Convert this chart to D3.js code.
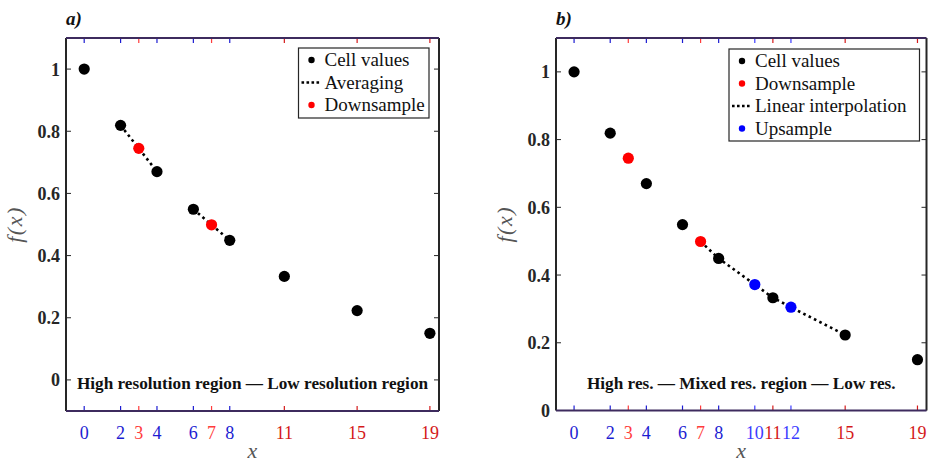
<!DOCTYPE html>
<html>
<head>
<meta charset="utf-8">
<script src="https://cdn.jsdelivr.net/npm/d3@7"></script>
<style>
  body { margin: 0; background: #fff; }
  svg { display: block; font-family: "Liberation Serif", "DejaVu Serif", serif; }
</style>
</head>
<body>
<svg id="chart" width="928" height="463"></svg>
<script>
// data
const cellX = [0, 2, 4, 6, 8, 11, 15, 19];
const cellY = [1.0, 0.819, 0.670, 0.549, 0.449, 0.333, 0.223, 0.150];
const downX = [3, 7];
const downY = [0.745, 0.499];
const upX = [10, 12];
const upY = [0.372, 0.305];
// averaging segments (panel a)
const avgX1 = [2, 3, 4], avgY1 = [0.819, 0.745, 0.670];
const avgX2 = [6, 7, 8], avgY2 = [0.549, 0.499, 0.449];
// linear interpolation (panel b)
const interpX = [7, 8, 10, 11, 12, 15];
const interpY = [0.499, 0.449, 0.372, 0.333, 0.305, 0.223];

// x ticks and their kind (drives colour)
const ticksA = [0, 2, 3, 4, 6, 7, 8, 11, 15, 19];
const kindsA = ["high", "high", "down", "high", "high", "down", "high", "low", "low", "low"];
const ticksB = [0, 2, 3, 4, 6, 7, 8, 10, 11, 12, 15, 19];
const kindsB = ["high", "high", "down", "high", "high", "down", "high", "up", "low", "up", "low", "low"];
const yTicks = [0, 0.2, 0.4, 0.6, 0.8, 1];

const kindColor = {high: "#1c1cd2", down: "#ff3c3c", low: "#d41a1a", up: "#3c3cff"};

const svg = d3.select("#chart");
const zip = (xs, ys) => xs.map((x, i) => ({x, y: ys[i]}));

function panel(opt) {
  const x = d3.scaleLinear().domain([-1, 19.5]).range([opt.left, opt.right]);
  const y = d3.scaleLinear().domain(opt.yDomain).range([opt.bottom, opt.top]);
  const g = svg.append("g");

  // dotted lines
  const line = d3.line().x(d => x(d.x)).y(d => y(d.y));
  opt.lines.forEach(l => {
    g.append("path")
      .attr("d", line(l))
      .attr("fill", "none")
      .attr("stroke", "#000")
      .attr("stroke-width", 2.6)
      .attr("stroke-dasharray", "2.6,3.4");
  });

  // points
  opt.points.forEach(p => {
    g.append("g").selectAll("circle")
      .data(p.data)
      .join("circle")
        .attr("cx", d => x(d.x))
        .attr("cy", d => y(d.y))
        .attr("r", 5.6)
        .attr("fill", p.color);
  });

  // y ticks (inward, both sides)
  const yt = g.append("g");
  yTicks.forEach(t => {
    yt.append("line").attr("x1", opt.left).attr("x2", opt.left + 5)
      .attr("y1", y(t)).attr("y2", y(t)).attr("stroke", "#262626");
    yt.append("line").attr("x1", opt.right).attr("x2", opt.right - 5)
      .attr("y1", y(t)).attr("y2", y(t)).attr("stroke", "#262626");
    yt.append("text")
      .attr("x", opt.left - 6)
      .attr("y", y(t))
      .attr("dy", "0.36em")
      .attr("text-anchor", "end")
      .attr("font-weight", "bold")
      .attr("font-size", 18)
      .attr("fill", "#262626")
      .text(d3.format("~g")(t));
  });

  // x ticks (inward, top and bottom) coloured
  const xt = g.append("g");
  opt.ticks.forEach((t, i) => {
    const c = kindColor[opt.kinds[i]];
    xt.append("line").attr("x1", x(t)).attr("x2", x(t))
      .attr("y1", opt.bottom).attr("y2", opt.bottom - 5).attr("stroke", c).attr("stroke-width", 1.2);
    xt.append("line").attr("x1", x(t)).attr("x2", x(t))
      .attr("y1", opt.top).attr("y2", opt.top + 5).attr("stroke", c).attr("stroke-width", 1.2);
    xt.append("text")
      .attr("x", x(t))
      .attr("y", opt.bottom + 28)
      .attr("text-anchor", "middle")
      .attr("font-size", 18)
      .attr("fill", c)
      .text(t);
  });

  // frame
  g.append("line").attr("x1", opt.left).attr("x2", opt.left)
    .attr("y1", opt.top).attr("y2", opt.bottom).attr("stroke", "#262626").attr("stroke-width", 2);
  g.append("line").attr("x1", opt.right).attr("x2", opt.right)
    .attr("y1", opt.top).attr("y2", opt.bottom).attr("stroke", "#262626").attr("stroke-width", 2);
  g.append("line").attr("x1", opt.left).attr("x2", opt.right)
    .attr("y1", opt.top).attr("y2", opt.top).attr("stroke", "#3d2b5e").attr("stroke-width", 2);
  g.append("line").attr("x1", opt.left).attr("x2", opt.right)
    .attr("y1", opt.bottom).attr("y2", opt.bottom).attr("stroke", "#3d2b5e").attr("stroke-width", 2);

  // panel title
  g.append("text")
    .attr("x", opt.left)
    .attr("y", 25)
    .attr("font-size", 19)
    .attr("font-weight", "bold")
    .attr("font-style", "italic")
    .attr("fill", "#111")
    .text(opt.title);

  // axis labels
  const cx = (opt.left + opt.right) / 2;
  g.append("text")
    .attr("x", cx)
    .attr("y", opt.bottom + 47)
    .attr("text-anchor", "middle")
    .attr("font-size", 22)
    .attr("font-style", "italic")
    .attr("fill", "#555")
    .text("x");
  g.append("text")
    .attr("transform", `translate(${opt.left - 44},${(opt.top + opt.bottom) / 2}) rotate(-90)`)
    .attr("text-anchor", "middle")
    .attr("font-size", 22)
    .attr("font-style", "italic")
    .attr("letter-spacing", 1.5)
    .attr("fill", "#555")
    .text("f(x)");

  // region annotation
  g.append("text")
    .attr("x", cx)
    .attr("y", 383)
    .attr("dy", "0.35em")
    .attr("text-anchor", "middle")
    .attr("font-size", 17.2)
    .attr("font-weight", "bold")
    .attr("fill", "#111")
    .text(opt.note);

  // legend
  const lg = g.append("g");
  lg.append("rect")
    .attr("x", opt.legend.x).attr("y", opt.legend.y)
    .attr("width", opt.legend.w).attr("height", opt.legend.h)
    .attr("fill", "#fff").attr("stroke", "#262626").attr("stroke-width", 1.2);
  opt.legend.items.forEach((it, i) => {
    const yy = opt.legend.y + 12 + i * 22.5;
    if (it.type === "dot") {
      lg.append("circle").attr("cx", opt.legend.x + 13).attr("cy", yy).attr("r", 3.2).attr("fill", it.color);
    } else {
      lg.append("line")
        .attr("x1", opt.legend.x + 3).attr("x2", opt.legend.x + 23)
        .attr("y1", yy).attr("y2", yy)
        .attr("stroke", "#000").attr("stroke-width", 2.6).attr("stroke-dasharray", "2.6,2.4");
    }
    lg.append("text")
      .attr("x", opt.legend.x + 26)
      .attr("y", yy)
      .attr("dy", "0.33em")
      .attr("font-size", 19)
      .attr("fill", "#111")
      .text(it.label);
  });
}

panel({
  left: 66, right: 439, top: 38, bottom: 411,
  yDomain: [-0.1, 1.1],
  title: "a)",
  ticks: ticksA, kinds: kindsA,
  lines: [zip(avgX1, avgY1), zip(avgX2, avgY2)],
  points: [
    {data: zip(cellX, cellY), color: "#000"},
    {data: zip(downX, downY), color: "#ff0000"}
  ],
  note: "High resolution region \u2014 Low resolution region",
  legend: {x: 298.5, y: 48, w: 130.5, h: 70, items: [
    {type: "dot", color: "#000", label: "Cell values"},
    {type: "line", label: "Averaging"},
    {type: "dot", color: "#ff0000", label: "Downsample"}
  ]}
});

panel({
  left: 556, right: 926.5, top: 38, bottom: 410.5,
  yDomain: [0, 1.1],
  title: "b)",
  ticks: ticksB, kinds: kindsB,
  lines: [zip(interpX, interpY)],
  points: [
    {data: zip(cellX, cellY), color: "#000"},
    {data: zip(downX, downY), color: "#ff0000"},
    {data: zip(upX, upY), color: "#0000ff"}
  ],
  note: "High res. \u2014 Mixed res. region \u2014 Low res.",
  legend: {x: 729, y: 49, w: 190.5, h: 92, items: [
    {type: "dot", color: "#000", label: "Cell values"},
    {type: "dot", color: "#ff0000", label: "Downsample"},
    {type: "line", label: "Linear interpolation"},
    {type: "dot", color: "#0000ff", label: "Upsample"}
  ]}
});
</script>
</body>
</html>
